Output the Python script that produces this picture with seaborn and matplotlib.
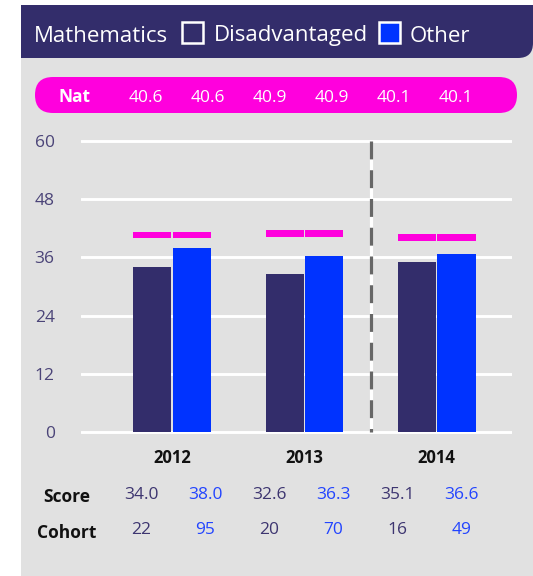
import pandas as pd
import matplotlib
matplotlib.use("Agg")
import matplotlib.pyplot as plt
from matplotlib.patches import Rectangle, FancyBboxPatch
import seaborn as sns

# data
years = ["2012", "2013", "2014"]
groups = ["Disadvantaged", "Other"]
score_dis = [34.0, 32.6, 35.1]
score_oth = [38.0, 36.3, 36.6]
cohort_dis = [22, 20, 16]
cohort_oth = [95, 70, 49]
nat_dis = [40.6, 40.9, 40.1]
nat_oth = [40.6, 40.9, 40.1]
yticks = [0, 12, 24, 36, 48, 60]

navy = "#332d6b"
blue = "#0033ff"
magenta = "#ff00dd"
grey = "#e1e1e1"
tick_col = "#4b4478"
dis_txt = "#3d3570"
oth_txt = "#2244ff"

sns.set_style("white")
plt.rcParams["font.family"] = ["Open Sans", "DejaVu Sans"]

df = pd.DataFrame({
    "Year": years * 2,
    "Score": score_dis + score_oth,
    "Group": [groups[0]] * 3 + [groups[1]] * 3,
})

W, H = 533, 576
fig = plt.figure(figsize=(W / 100, H / 100), dpi=100, facecolor="white")

# background layer in pixel coordinates
bg = fig.add_axes([0, 0, 1, 1], zorder=0)
bg.set_xlim(0, W)
bg.set_ylim(H, 0)
bg.axis("off")
bg.add_patch(Rectangle((21, 5), W - 21, H - 5, color=grey, lw=0))
# header bar, only bottom-right corner rounded
bg.add_patch(FancyBboxPatch((21, 5), W - 21, 53, boxstyle="round,pad=0,rounding_size=15",
                            color=navy, lw=0))
bg.add_patch(Rectangle((21, 5), W - 60, 53, color=navy, lw=0))
bg.add_patch(Rectangle((21, 5), W - 21, 30, color=navy, lw=0))
bg.text(34, 41.5, "Mathematics", color="white", fontsize=16, va="baseline", ha="left")
bg.add_patch(Rectangle((182, 22), 21, 21, facecolor=navy, edgecolor="white", lw=1.8))
bg.text(214, 41.5, groups[0], color="white", fontsize=16, va="baseline", ha="left")
bg.add_patch(Rectangle((379, 22), 21, 21, facecolor=blue, edgecolor="white", lw=1.8))
bg.text(410, 41.5, groups[1], color="white", fontsize=16, va="baseline", ha="left")

# national average pill
bg.add_patch(FancyBboxPatch((35, 77), 482, 36, boxstyle="round,pad=0,rounding_size=18",
                            color=magenta, lw=0))
bg.text(75, 101.5, "Nat", color="white", fontsize=12.5, fontweight="bold", va="baseline", ha="center")
nat_all = [v for pair in zip(nat_dis, nat_oth) for v in pair]
for i, v in enumerate(nat_all):
    bg.text(146 + 62 * i, 102.5, f"{v:.1f}", color="white", fontsize=12.5, va="baseline", ha="center")

# score / cohort table
bg.text(67, 502.5, "Score", color="#111111", fontsize=12.5, fontweight="bold", va="baseline", ha="center")
bg.text(67, 537.5, "Cohort", color="#111111", fontsize=12.5, fontweight="bold", va="baseline", ha="center")
for i in range(3):
    x0 = 141.5 + 128 * i
    bg.text(x0, 499, f"{score_dis[i]:.1f}", color=dis_txt, fontsize=12.5, va="baseline", ha="center")
    bg.text(x0 + 64, 499, f"{score_oth[i]:.1f}", color=oth_txt, fontsize=12.5, va="baseline", ha="center")
    bg.text(x0, 533.5, str(cohort_dis[i]), color=dis_txt, fontsize=12.5, va="baseline", ha="center")
    bg.text(x0 + 64, 533.5, str(cohort_oth[i]), color=oth_txt, fontsize=12.5, va="baseline", ha="center")

# main chart
ax = fig.add_axes([0.152, 0.2416, 0.8086, 0.522], zorder=1)
ax.patch.set_alpha(0)
sns.barplot(data=df, x="Year", y="Score", hue="Group", order=years, hue_order=groups,
            palette=[navy, blue], saturation=1, width=0.6, gap=0.04, legend=False,
            errorbar=None, ax=ax, zorder=3, linewidth=0)

bw = 0.3 * 0.96
for i in range(3):
    ax.bar([i - 0.15, i + 0.15], [1.4, 1.4], bottom=[nat_dis[i] - 0.7, nat_oth[i] - 0.7],
           width=bw, color=magenta, lw=0, zorder=3)

ax.plot([1.5, 1.5], [60, 0], color="white", lw=2.3, zorder=2)
ax.plot([1.5, 1.5], [60, 0], color="#666666", lw=2.3, ls=(0, (5.6, 3.4)), zorder=2.5)

ax.set_xlim(-0.69, 2.57)
ax.set_ylim(-1, 61)
ax.set_yticks(yticks)
ax.set_yticklabels([str(t) for t in yticks])
ax.grid(axis="y", color="white", lw=2.1)
ax.grid(axis="x", visible=False)
ax.set_axisbelow(True)
for s in ax.spines.values():
    s.set_visible(False)
ax.tick_params(axis="y", length=0, pad=19, labelsize=12.5, labelcolor=tick_col)
ax.tick_params(axis="x", length=0, pad=9, labelsize=12, labelcolor="#111111")
for lab in ax.get_xticklabels():
    lab.set_fontweight("bold")
ax.set_xlabel("")
ax.set_ylabel("")

fig.savefig("out.png", dpi=100, facecolor="white")
